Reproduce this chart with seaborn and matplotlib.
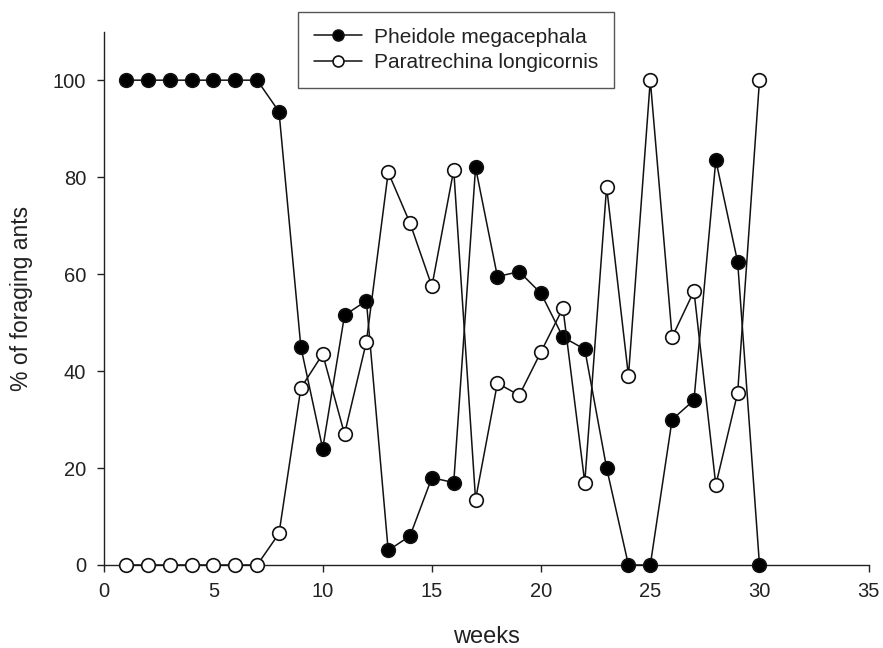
import numpy as np
import pandas as pd
import seaborn as sns
import matplotlib.pyplot as plt

weeks = list(range(1, 31))
pheidole = [100, 100, 100, 100, 100, 100, 100, 93.5, 45, 24,
            51.5, 54.5, 3, 6, 18, 17, 82, 59.5, 60.5, 56,
            47, 44.5, 20, 0, 0, 30, 34, 83.5, 62.5, 0]
paratrechina = [0, 0, 0, 0, 0, 0, 0, 6.5, 36.5, 43.5,
                27, 46, 81, 70.5, 57.5, 81.5, 13.5, 37.5, 35, 44,
                53, 17, 78, 39, 100, 47, 56.5, 16.5, 35.5, 100]
species = ['Pheidole megacephala', 'Paratrechina longicornis']

df = pd.DataFrame({'weeks': weeks, species[0]: pheidole, species[1]: paratrechina})

sns.set_style('ticks')
plt.rcParams['font.family'] = ['Liberation Sans', 'DejaVu Sans']

fig = plt.figure(figsize=(8.83, 6.48), dpi=100)
ax = fig.add_axes([0.1181, 0.1281, 0.8657, 0.823])

faces = ['black', 'white']
for name, face in zip(species, faces):
    sns.lineplot(data=df, x='weeks', y=name, ax=ax, color='#111111', linewidth=1.1,
                 marker='o', markersize=9.8, markerfacecolor=face,
                 markeredgecolor='#111111', markeredgewidth=1.2,
                 clip_on=False, label=name, zorder=3)

ax.set_xlim(0, 35)
ax.set_ylim(0, 110)
ax.set_xticks([0, 5, 10, 15, 20, 25, 30, 35])
ax.set_yticks([0, 20, 40, 60, 80, 100])
ax.tick_params(labelsize=14.5, length=5, width=1, colors='#222222')
ax.tick_params(axis='y', pad=8)
ax.tick_params(axis='x', pad=7)
for s in ['top', 'right']:
    ax.spines[s].set_visible(False)
for s in ['left', 'bottom']:
    ax.spines[s].set_color('#222222')
    ax.spines[s].set_linewidth(1)

ax.set_xlabel('weeks', fontsize=17, labelpad=18, color='#222222')
ax.set_ylabel('% of foraging ants', fontsize=16.5, labelpad=14, color='#222222')

leg = ax.legend(loc='upper left', bbox_to_anchor=(298 / 883, 1 - 12 / 648),
                bbox_transform=fig.transFigure, fontsize=15, fancybox=False,
                edgecolor='#555555', framealpha=1, handlelength=2.3, markerscale=0.8,
                borderpad=0.75, labelspacing=0.3, handletextpad=0.6, borderaxespad=0)
leg.get_frame().set_linewidth(1)
for t in leg.get_texts():
    t.set_color('#222222')

fig.savefig('out.png', dpi=100)
